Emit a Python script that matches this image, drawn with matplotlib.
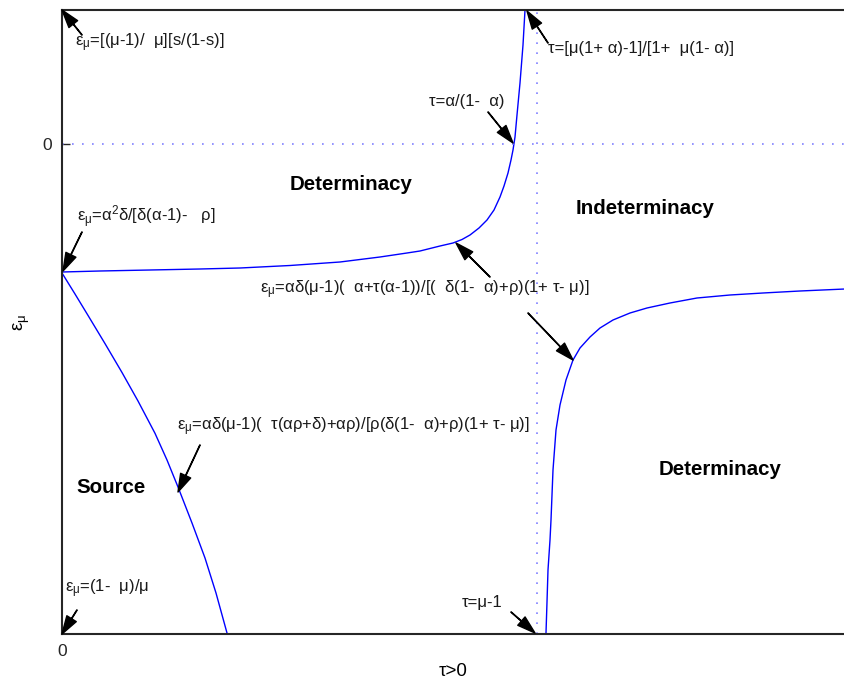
import matplotlib
matplotlib.use('Agg')
import matplotlib.pyplot as plt
import numpy as np

plt.rcParams['font.family'] = ['Liberation Sans', 'DejaVu Sans']
plt.rcParams['mathtext.default'] = 'regular'

# curves (tau, eps_mu) in arbitrary units
upper_x = [0.00, 0.38, 0.88, 1.38, 1.78, 2.28, 2.78, 3.18, 3.45, 3.58, 3.78, 3.91, 4.00,
           4.08, 4.17, 4.25, 4.32, 4.38, 4.42, 4.46, 4.49, 4.51, 4.53, 4.55, 4.58, 4.61, 4.63]
upper_y = [-1.28, -1.27, -1.26, -1.25, -1.24, -1.215, -1.18, -1.13, -1.09, -1.07, -1.02, -0.99, -0.955,
           -0.91, -0.84, -0.76, -0.66, -0.53, -0.42, -0.29, -0.16, -0.06, 0.07, 0.29, 0.61, 0.99, 1.34]

right_x = [4.84, 4.85, 4.86, 4.88, 4.89, 4.91, 4.94, 4.98, 5.04, 5.11, 5.18, 5.28, 5.38,
           5.51, 5.68, 5.85, 6.08, 6.35, 6.68, 7.01, 7.38, 7.83]
right_y = [-4.89, -4.58, -4.26, -3.96, -3.76, -3.26, -2.86, -2.61, -2.36, -2.16, -2.04, -1.93, -1.84,
           -1.76, -1.69, -1.64, -1.59, -1.54, -1.51, -1.49, -1.47, -1.45]

left_x = [0.00, 0.13, 0.26, 0.43, 0.60, 0.76, 0.93, 1.05, 1.16, 1.30, 1.43, 1.54, 1.65]
left_y = [-1.29, -1.50, -1.714, -1.996, -2.285, -2.57, -2.893, -3.16, -3.43, -3.79, -4.14, -4.49, -4.89]

tau_asym = 4.75
eps_zero = 0.0

# formula labels: text, text pos, arrow tails, arrow tips
labels = [
    ('ε$_μ$=[(μ-1)/  μ][s/(1-s)]', (0.13, 0.98), [((0.20, 1.09), (0.0, 1.34))]),
    ('τ=[μ(1+ α)-1]/[1+  μ(1- α)]', (4.86, 0.91), [((4.86, 1.01), (4.65, 1.33))]),
    ('τ=α/(1-  α)', (3.67, 0.38), [((4.26, 0.32), (4.51, 0.01))]),
    ('ε$_μ$=α$^2$δ/[δ(α-1)-   ρ]', (0.15, -0.78), [((0.20, -0.88), (0.01, -1.27))]),
    ('ε$_μ$=αδ(μ-1)(  α+τ(α-1))/[(  δ(1-  α)+ρ)(1+ τ- μ)]', (1.98, -1.49),
     [((4.28, -1.33), (3.94, -0.99)), ((4.66, -1.69), (5.11, -2.16))]),
    ('ε$_μ$=αδ(μ-1)(  τ(αρ+δ)+αρ)/[ρ(δ(1-  α)+ρ)(1+ τ- μ)]', (1.15, -2.86),
     [((1.38, -3.01), (1.16, -3.48))]),
    ('ε$_μ$=(1-  μ)/μ', (0.03, -4.48), [((0.15, -4.66), (0.0, -4.90))]),
    ('τ=μ-1', (4.00, -4.63), [((4.49, -4.68), (4.73, -4.89))]),
]

regions = ['Determinacy', 'Indeterminacy', 'Determinacy', 'Source']
region_pos = [(2.89, -0.41), (5.83, -0.64), (6.58, -3.26), (0.49, -3.44)]

fig = plt.figure(figsize=(8.45, 6.88), dpi=100)
ax = fig.add_axes([62 / 845, 54 / 688, 783 / 845, 624 / 688])

ax.plot(upper_x, upper_y, color='#0000ff', lw=1.0)
ax.plot(right_x, right_y, color='#0000ff', lw=1.0)
ax.plot(left_x, left_y, color='#0000ff', lw=1.0)
ax.axvline(tau_asym, color='#7f7fff', lw=1.2, ls=(0, (1, 5)))
ax.axhline(eps_zero, color='#7f7fff', lw=1.2, ls=(0, (1, 5)))

for txt, pos, arrows in labels:
    ax.text(pos[0], pos[1], txt, fontsize=12, color='#1a1a1a', ha='left', va='baseline')
    for tail, tip in arrows:
        ax.annotate('', xy=tip, xytext=tail,
                    arrowprops=dict(facecolor='black', edgecolor='black', width=0.3,
                                    headwidth=8, headlength=13, shrink=0))

for name, (px, py) in zip(regions, region_pos):
    ax.text(px, py, name, fontsize=14.8, fontweight='bold', ha='center', va='center')

ax.set_xlim(0, 7.83)
ax.set_ylim(-4.90, 1.34)
ax.set_xticks([0])
ax.set_yticks([0])
ax.tick_params(direction='in', length=6, width=1, labelsize=12.5, pad=7, colors='#262626')
ax.spines['right'].set_visible(False)
for s in ['left', 'top', 'bottom']:
    ax.spines[s].set_linewidth(1.5)
    ax.spines[s].set_color('#262626')

ax.set_xlabel('τ>0', fontsize=13.5, labelpad=3)
ax.set_ylabel('ε$_μ$', fontsize=13.5, labelpad=8)

fig.savefig('out.png', dpi=100)
